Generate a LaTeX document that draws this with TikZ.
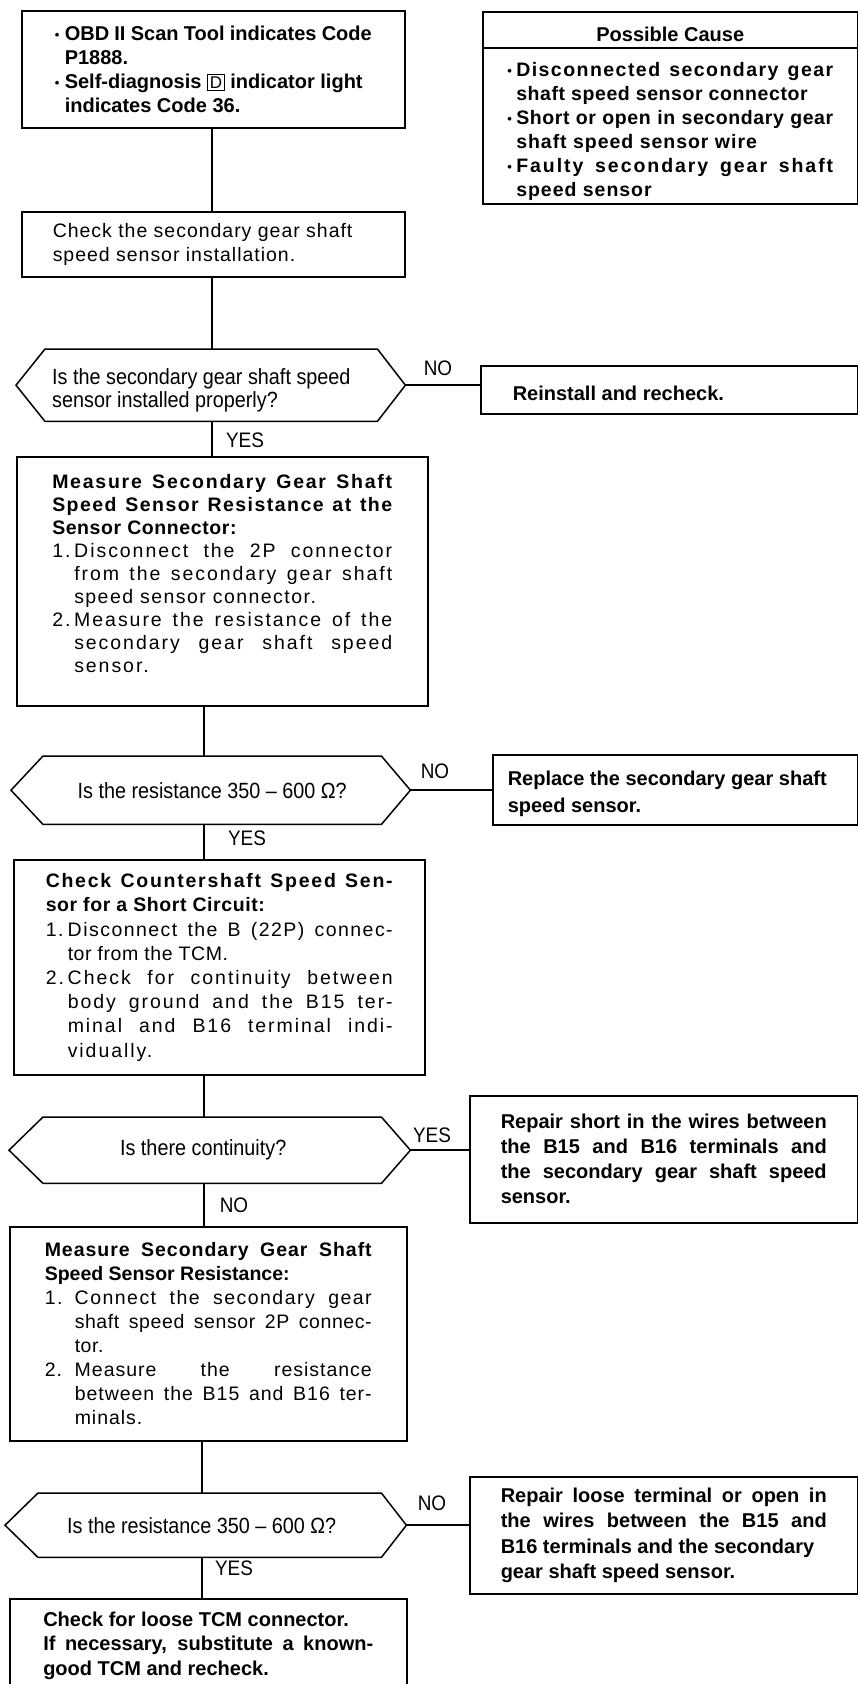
\documentclass[tikz,border=0pt]{standalone}
\usepackage{fontspec}
\setmainfont{Liberation Sans}
\newfontfamily\lsA[LetterSpace=3]{Liberation Sans}
\newfontfamily\lsB[LetterSpace=5]{Liberation Sans}
\newfontfamily\lsC[LetterSpace=7.5]{Liberation Sans}
\newfontfamily\lsE[LetterSpace=9]{Liberation Sans}
\newfontfamily\lsD[LetterSpace=10]{Liberation Sans}
\newfontfamily\nar[FakeStretch=0.9]{Liberation Sans}
\usetikzlibrary{calc}
\newlength\jwd
\newcommand\Jl[1]{\hbox to\jwd{#1}}
\newcommand\Ll[1]{\hbox to\jwd{#1\hfil}}
\newcommand\bul{\makebox[10pt][l]{\raisebox{1pt}{\fontsize{13}{13}\selectfont •}}}
\newcommand\bulb{\makebox[9pt][l]{\raisebox{1pt}{\fontsize{13}{13}\selectfont •}}}
\newcommand\dbox[1]{{\fboxsep=1.5pt\fboxrule=1.3pt\fbox{\mdseries\fontsize{17}{17}\selectfont #1}}}
\newcommand\num[1]{\makebox[22pt][l]{#1}}
\newcommand\numw[1]{\makebox[30pt][l]{#1}}
\tikzset{
  box/.style={draw, line width=1.5pt, inner sep=0pt, anchor=north west,
    font=\fontsize{19.5}{23.5}\selectfont},
  boxb/.style={box, font=\fontsize{20}{23.5}\selectfont\bfseries},
  boxt/.style={box, font=\lsB\fontsize{19.5}{23.5}\selectfont},
  dec/.style={inner sep=0pt, anchor=north west, font=\nar\fontsize{22}{23.6}\selectfont},
  lbl/.style={inner sep=0pt, font=\nar\fontsize{21}{21}\selectfont},
  hexa/.style={line width=1.5pt},
  conn/.style={line width=1.5pt},
}
\begin{document}
\begin{tikzpicture}[x=1pt,y=-1pt]
\useasboundingbox (0,0) rectangle (858,1684);
\clip (0,0) rectangle (858,1684);
\coordinate (cA) at (212,0);
\coordinate (cB) at (204,0);
\coordinate (cC) at (204,0);
\coordinate (cD) at (202,0);

% top box
\node[boxb, minimum width=383pt, minimum height=117pt] (b1) at (21,10) {\vbox{\baselineskip=24pt\jwd=317pt\relax
  \Ll{\bul OBD II Scan Tool indicates Code}
  \Ll{\hspace*{10pt}P1888.}
  \Ll{\bul Self-diagnosis \dbox{D} indicator light}
  \Ll{\hspace*{10pt}indicates Code 36.}}};

% possible cause
\node[boxb, minimum width=375pt, minimum height=36pt] (pch) at (482,11) {\vbox{\kern9pt\hbox{Possible Cause}}};
\node[box, minimum width=375pt, minimum height=156pt] (pcb) at (482,47) {\vbox{\kern12pt\bfseries\baselineskip=24pt\jwd=326pt\relax
  \Jl{\bulb\lsC Disconnected secondary gear}
  \Ll{\hspace*{9pt}\lsA shaft speed sensor connector}
  \Jl{\bulb\lsA Short or open in secondary gear}
  \Ll{\hspace*{9pt}\lsB shaft speed sensor wire}
  \Jl{\bulb\lsD Faulty secondary gear shaft}
  \Ll{\hspace*{9pt}\lsB speed sensor}}};

% check installation
\node[boxt, minimum width=383pt, minimum height=65pt] (b2) at (21,211) {\vbox{\jwd=321pt\relax
  \Ll{Check the secondary gear shaft}
  \Ll{speed sensor installation.}}};

% decision 1
\node[dec, minimum width=332pt, minimum height=72pt] (d1) at (45,349) {\vbox{\kern10pt\jwd=318pt\relax
  \Ll{Is the secondary gear shaft speed}
  \Ll{sensor installed properly?}}};
\coordinate (d1l) at ($(d1.west)+(-29,0)$);
\coordinate (d1r) at ($(d1.east)+(28,0)$);
\draw[hexa] (d1.north west) -- (d1.north east) -- (d1r) -- (d1.south east) -- (d1.south west) -- (d1l) -- cycle;

\node[boxb, minimum width=377pt, minimum height=48pt] (r1) at (480,365) {\vbox{\kern8pt\jwd=313pt\relax
  \Ll{Reinstall and recheck.}}};
\node[lbl] (n1) at (438,368) {NO};
\node[lbl] (y1) at (245,440) {YES};

% measure at sensor connector
\node[boxt, minimum width=411pt, minimum height=249pt] (b3) at (16,456) {\vbox{\baselineskip=23pt\jwd=340pt\relax
  \Jl{\lsE\bfseries Measure Secondary Gear Shaft}
  \Jl{\lsC\bfseries Speed Sensor Resistance at the}
  \Ll{\lsA\bfseries Sensor Connector:}
  \Jl{\lsD\num{1.}Disconnect the 2P connector}
  \Jl{\lsD\hspace*{22pt}from the secondary gear shaft}
  \Ll{\lsC\hspace*{22pt}speed sensor connector.}
  \Jl{\lsD\num{2.}Measure the resistance of the}
  \Jl{\lsD\hspace*{22pt}secondary gear shaft speed}
  \Ll{\lsD\hspace*{22pt}sensor.}
  \kern15pt}};

% decision 2
\node[dec, minimum width=338pt, minimum height=68pt] (d2) at (43,756) {\hbox{Is the resistance 350 – 600 Ω?}};
\coordinate (d2l) at ($(d2.west)+(-32,0)$);
\coordinate (d2r) at ($(d2.east)+(29,0)$);
\draw[hexa] (d2.north west) -- (d2.north east) -- (d2r) -- (d2.south east) -- (d2.south west) -- (d2l) -- cycle;

\node[boxb, minimum width=365pt, minimum height=70pt] (r2) at (492,754) {\vbox{\kern8pt\baselineskip=26.5pt\jwd=335pt\relax
  \Ll{Replace the secondary gear shaft}
  \Ll{speed sensor.}}};
\node[lbl] (n2) at (435,771) {NO};
\node[lbl] (y2) at (247,838) {YES};

% countershaft short circuit
\node[boxt, minimum width=411pt, minimum height=215pt] (b4) at (13,859) {\vbox{\baselineskip=24.2pt\jwd=347pt\relax
  \Jl{\lsE\bfseries Check Countershaft Speed Sen-}
  \Ll{\lsA\bfseries sor for a Short Circuit:}
  \Jl{\lsC\num{1.}Disconnect the B (22P) connec-}
  \Ll{\lsA\hspace*{22pt}tor from the TCM.}
  \Jl{\lsD\num{2.}Check for continuity between}
  \Jl{\lsD\hspace*{22pt}body ground and the B15 ter-}
  \Jl{\lsD\hspace*{22pt}minal and B16 terminal indi-}
  \Ll{\lsD\hspace*{22pt}vidually.}}};

% decision 3
\node[dec, minimum width=338pt, minimum height=66pt] (d3) at (43,1117) {\hbox{Is there continuity?\kern18pt}};
\coordinate (d3l) at ($(d3.west)+(-34,0)$);
\coordinate (d3r) at ($(d3.east)+(29,0)$);
\draw[hexa] (d3.north west) -- (d3.north east) -- (d3r) -- (d3.south east) -- (d3.south west) -- (d3l) -- cycle;

\node[boxb, minimum width=388pt, minimum height=127pt] (r3) at (469,1095) {\vbox{\baselineskip=25pt\jwd=326pt\relax
  \Jl{Repair short in the wires between}
  \Jl{the B15 and B16 terminals and}
  \Jl{the secondary gear shaft speed}
  \Ll{sensor.}}};
\node[lbl] (y3) at (432,1135) {YES};
\node[lbl] (n3) at (234,1205) {NO};

% measure resistance
\node[boxt, minimum width=397pt, minimum height=214pt] (b5) at (9,1226) {\vbox{\baselineskip=24pt\jwd=327pt\relax
  \Jl{\lsB\bfseries Measure Secondary Gear Shaft}
  \Ll{\rmfamily\bfseries Speed Sensor Resistance:}
  \Jl{\lsC\numw{1.}Connect the secondary gear}
  \Jl{\lsA\hspace*{30pt}shaft speed sensor 2P connec-}
  \Ll{\lsA\hspace*{30pt}tor.}
  \Jl{\lsB\numw{2.}Measure the resistance}
  \Jl{\lsB\hspace*{30pt}between the B15 and B16 ter-}
  \Ll{\lsB\hspace*{30pt}minals.}}};

% decision 4
\node[dec, minimum width=343pt, minimum height=64pt] (d4) at (38,1493) {\hbox{Is the resistance 350 – 600 Ω?\kern16pt}};
\coordinate (d4l) at ($(d4.west)+(-33,0)$);
\coordinate (d4r) at ($(d4.east)+(25,0)$);
\draw[hexa] (d4.north west) -- (d4.north east) -- (d4r) -- (d4.south east) -- (d4.south west) -- (d4l) -- cycle;

\node[boxb, minimum width=388pt, minimum height=117pt] (r4) at (469,1476) {\vbox{\baselineskip=25.5pt\jwd=326pt\relax
  \Jl{Repair loose terminal or open in}
  \Jl{the wires between the B15 and}
  \Ll{B16 terminals and the secondary}
  \Ll{gear shaft speed sensor.}}};
\node[lbl] (n4) at (432,1503) {NO};
\node[lbl] (y4) at (234,1568) {YES};

% final box
\node[boxb, minimum width=397pt, minimum height=94pt] (b6) at (9,1598) {\vbox{\baselineskip=24.5pt\jwd=330pt\relax
  \Ll{Check for loose TCM connector.}
  \Jl{If necessary, substitute a known-}
  \Ll{good TCM and recheck.}}};

% connectors
\draw[conn] (b1.south -| cA) -- (b2.north -| cA);
\draw[conn] (b2.south -| cA) -- (d1.north -| cA);
\draw[conn] (d1.south -| cA) -- (b3.north -| cA);
\draw[conn] (b3.south -| cB) -- (d2.north -| cB);
\draw[conn] (d2.south -| cB) -- (b4.north -| cB);
\draw[conn] (b4.south -| cC) -- (d3.north -| cC);
\draw[conn] (d3.south -| cC) -- (b5.north -| cC);
\draw[conn] (b5.south -| cD) -- (d4.north -| cD);
\draw[conn] (d4.south -| cD) -- (b6.north -| cD);
\draw[conn] (d1r) -- (d1r -| r1.west);
\draw[conn] (d2r) -- (d2r -| r2.west);
\draw[conn] (d3r) -- (d3r -| r3.west);
\draw[conn] (d4r) -- (d4r -| r4.west);
\end{tikzpicture}
\end{document}
